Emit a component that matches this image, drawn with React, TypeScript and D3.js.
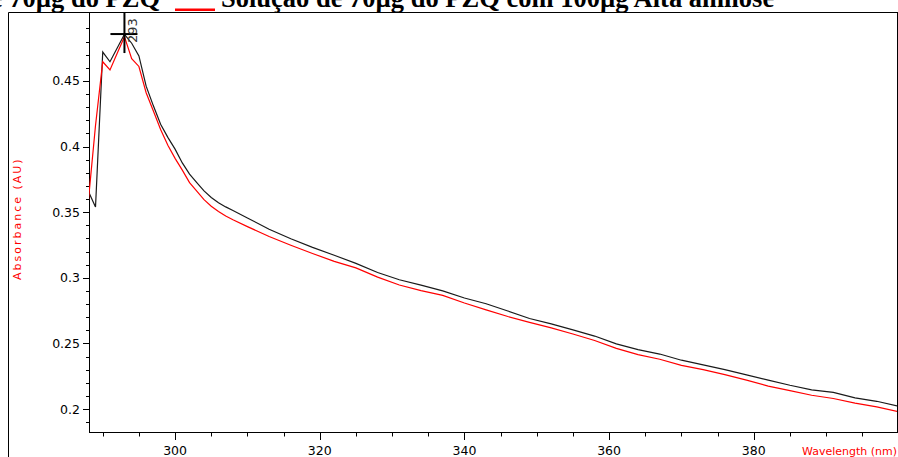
import React from "react";
import * as d3 from "d3";

// UV absorbance spectra, wavelength in nm
const wavelengths = [
  288, 289, 290, 291, 292, 293, 294, 295, 296, 297, 298, 299, 300, 301, 302, 303, 304, 305, 306, 307, 308,
  310, 313, 316, 319, 322, 325, 328, 331, 334, 337, 340, 343, 346, 349, 352, 355, 358, 361, 364, 367, 370,
  373, 376, 379, 382, 385, 388, 391, 394, 397, 400,
];

// Solução de 70µg do PZQ
const pzqAbsorbance = [
  0.366, 0.354, 0.472, 0.4646, 0.475, 0.4855, 0.4787, 0.469, 0.446, 0.431, 0.417, 0.407, 0.398, 0.3875, 0.379,
  0.3725, 0.3662, 0.3612, 0.3572, 0.354, 0.3512, 0.3456, 0.337, 0.3297, 0.3232, 0.3172, 0.311, 0.304, 0.2985,
  0.2944, 0.29, 0.2846, 0.2802, 0.2747, 0.269, 0.2649, 0.2603, 0.2556, 0.2496, 0.2453, 0.2419, 0.2372, 0.2337,
  0.23, 0.226, 0.222, 0.2181, 0.2146, 0.2127, 0.2085, 0.2059, 0.2022,
];

// Solução de 70µg do PZQ com 100µg Alta amilose
const pzqAmyloseAbsorbance = [
  0.358, 0.416, 0.4646, 0.4583, 0.471, 0.4837, 0.467, 0.461, 0.441, 0.427, 0.413, 0.401, 0.391, 0.382, 0.3725,
  0.366, 0.3595, 0.3545, 0.3505, 0.347, 0.3442, 0.339, 0.3315, 0.3248, 0.3185, 0.3125, 0.3075, 0.3005, 0.2945,
  0.2902, 0.2866, 0.2808, 0.2755, 0.2705, 0.266, 0.2618, 0.2572, 0.2522, 0.2462, 0.2415, 0.2379, 0.2333, 0.23,
  0.2262, 0.222, 0.2175, 0.214, 0.2105, 0.208, 0.2045, 0.2016, 0.198,
];

const xMajorTicks = [300, 320, 340, 360, 380];
const yMajorTicks = [0.2, 0.25, 0.3, 0.35, 0.4, 0.45];
const peakWavelength = 293;
const peakValue = 0.4857;

const W = 898;
const H = 457;
const plot = { left: 89, top: 12, right: 897, bottom: 432 };
const font = "'DejaVu Sans', sans-serif";

export default function App() {
  const x = d3.scaleLinear().domain([288.1, 399.8]).range([plot.left, plot.right]);
  const y = d3.scaleLinear().domain([0.1825, 0.5025]).range([plot.bottom, plot.top]);

  const line = d3
    .line<number>()
    .x((_, i) => x(wavelengths[i]))
    .y((d) => y(d));

  const xMinor = d3.range(290, 400, 5).filter((v) => v % 20 !== 0);
  const yMinor = d3.range(19, 51).map((v) => v / 100).filter((v) => Math.round(v * 100) % 5 !== 0);

  const px = x(peakWavelength);
  const py = y(peakValue);

  return (
    <svg
      width={W}
      height={H}
      style={{ position: "absolute", left: 0, top: 0, background: "#fff" }}
    >
      <defs>
        <clipPath id="plotClip">
          <rect x={plot.left} y={plot.top} width={plot.right - plot.left} height={plot.bottom - plot.top} />
        </clipPath>
      </defs>

      {/* title */}
      <g fontFamily="'Liberation Serif', 'Times New Roman', serif" fontWeight="bold" fontSize={26.5} fill="#000">
        <text x={160} y={7} textAnchor="end">
          Solução de 70µg do PZQ
        </text>
        <rect x={175} y={8.5} width={40} height={2.5} fill="#ff0000" />
        <text x={221} y={7}>
          Solução de 70µg do PZQ com 100µg Alta amilose
        </text>
      </g>

      {/* outer frame */}
      <line x1={8.5} y1={12.5} x2={8.5} y2={H} stroke="#000" strokeWidth={1} />
      <line x1={8.5} y1={12.5} x2={W} y2={12.5} stroke="#000" strokeWidth={1} />
      <line x1={plot.right + 0.5} y1={plot.top} x2={plot.right + 0.5} y2={plot.bottom} stroke="#000" strokeWidth={1} />

      {/* axes */}
      <line x1={plot.left + 0.5} y1={plot.top} x2={plot.left + 0.5} y2={plot.bottom + 0.5} stroke="#000" />
      <line x1={plot.left} y1={plot.bottom + 0.5} x2={plot.right + 1} y2={plot.bottom + 0.5} stroke="#000" />

      {yMajorTicks.map((v) => (
        <g key={"ym" + v}>
          <line x1={plot.left - 6} x2={plot.left} y1={Math.round(y(v)) + 0.5} y2={Math.round(y(v)) + 0.5} stroke="#000" />
          <text x={plot.left - 9} y={y(v) + 4.5} textAnchor="end" fontFamily={font} fontSize={12.5} fill="#000">
            {String(v)}
          </text>
        </g>
      ))}
      {yMinor.map((v) => (
        <line key={"yn" + v} x1={plot.left - 3} x2={plot.left} y1={Math.round(y(v)) + 0.5} y2={Math.round(y(v)) + 0.5} stroke="#000" />
      ))}

      {xMajorTicks.map((v) => (
        <g key={"xm" + v}>
          <line x1={Math.round(x(v)) + 0.5} x2={Math.round(x(v)) + 0.5} y1={plot.bottom} y2={plot.bottom + 8} stroke="#000" />
          <text x={x(v)} y={455} textAnchor="middle" fontFamily={font} fontSize={12.5} fill="#000">
            {v}
          </text>
        </g>
      ))}
      {xMinor.map((v) => (
        <line key={"xn" + v} x1={Math.round(x(v)) + 0.5} x2={Math.round(x(v)) + 0.5} y1={plot.bottom} y2={plot.bottom + 4.5} stroke="#000" />
      ))}

      {/* axis titles */}
      <text
        transform="translate(20.5,280) rotate(-90)"
        fontFamily={font}
        fontSize={11}
        letterSpacing={2}
        fill="#ff0000"
      >
        Absorbance (AU)
      </text>
      <text x={802} y={455} fontFamily={font} fontSize={11} fill="#ff0000">
        Wavelength (nm)
      </text>

      {/* spectra */}
      <g clipPath="url(#plotClip)" fill="none">
        <path d={line(pzqAbsorbance) ?? ""} stroke="#1a1a1a" strokeWidth={1.2} />
        <path d={line(pzqAmyloseAbsorbance) ?? ""} stroke="#ff0000" strokeWidth={1.2} />
      </g>

      {/* peak marker */}
      <g clipPath="url(#plotClip)">
        <line x1={px} x2={px} y1={py - 22} y2={py + 19} stroke="#000" strokeWidth={2} />
        <line x1={px - 14} x2={px + 13} y1={py} y2={py} stroke="#000" strokeWidth={2} />
        <text
          transform={`translate(${px + 13},${py + 9}) rotate(-90)`}
          fontFamily={font}
          fontSize={13}
          fill="#333"
        >
          {peakWavelength}
        </text>
      </g>
    </svg>
  );
}
